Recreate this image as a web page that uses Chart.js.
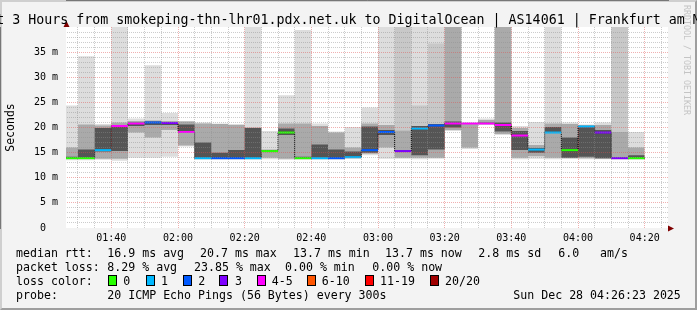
<!DOCTYPE html>
<html>
<head>
<meta charset="utf-8">
<script src="https://cdn.jsdelivr.net/npm/chart.js@4.4.1/dist/chart.umd.min.js"></script>
<style>
  html, body { margin: 0; padding: 0; }
  body { width: 697px; height: 310px; overflow: hidden; position: relative; background: #f3f3f3; font-family: "DejaVu Sans Mono", monospace; }
  #frame { position: absolute; left: 0; top: 0; width: 697px; height: 310px; box-sizing: border-box; border: 2px solid; border-color: #cfcfcf #9e9e9e #9e9e9e #cfcfcf; }
  #chart { position: absolute; left: 0; top: 0; }
  .t { position: absolute; white-space: pre; line-height: 1; color: #000; }
  #title { font-size: 13.3px; left: 348.5px; top: 12.8px; transform: translateX(-50%); }
  .f { font-size: 11.6px; }
  .box { position: absolute; width: 9px; height: 11px; box-sizing: border-box; border: 1px solid #000; top: 275px; }
  #rrd { position: absolute; left: 683px; top: 5px; font-size: 8.3px; line-height: 8.3px; color: #c4c4c4; writing-mode: vertical-rl; white-space: pre; }
</style>
</head>
<body>
<div id="frame"></div>
<canvas id="chart" width="697" height="310"></canvas>
<div id="rrd">RRDTOOL / TOBI OETIKER</div>
<div id="title" class="t">Last 3 Hours from smokeping-thn-lhr01.pdx.net.uk to DigitalOcean | AS14061 | Frankfurt am Main</div>
<div id="legend"></div>
<script>
// loss colour legend (smokeping defaults)
const lossColors = ["#26ff00", "#00b8ff", "#0059ff", "#7e00ff", "#ff00ff", "#ff5500", "#ff0000", "#a00000"];
const lossLabels = ["0", "1", "2", "3", "4-5", "6-10", "11-19", "20/20"];

// time window, minutes after midnight
const firstStep = 85;      // 01:25, start of first 5 min step
const stepMinutes = 5;
const viewStart = 86.4;    // 01:26:23
const viewEnd = 267.0;

// smoke per step (ms): outer band, haze, middle band, dark core
const smokeMax = [24.4, 34.2, 20.7, 42, 21.8, 32.4, 22.9, 21.3, 21.0, 20.8, 20.7, 42, 19.3, 26.4, 39.4, 20.8, 19.2, 20.1, 24.0, 42, 42, 42, 42, 42, 20.9, 21.8, 42, 20.3, 21.1, 42, 21.0, 20.6, 21.0, 42, 19.1];
const smokeHaze = [16.0, 20.6, 20.4, 21.0, 21.3, 21.4, 21.3, 21.2, 20.8, 20.7, 20.5, 20.0, 15.6, 20.8, 20.8, 20.3, 19.0, 16.0, 20.8, 20.5, 42, 24.4, 36.7, 42, 20.9, 21.5, 42, 19.9, 16.5, 20.8, 20.7, 20.5, 20.5, 42, 16.0];
const smokeHi2 = [16.0, 20.6, 20.4, 21.0, 21.3, 21.4, 21.3, 21.2, 20.8, 20.7, 20.5, 20.0, 15.6, 20.8, 20.8, 20.3, 19.0, 16.0, 20.8, 20.5, 19.4, 20.3, 20.7, 42, 20.9, 21.5, 42, 19.9, 16.5, 20.8, 20.7, 20.5, 20.5, 19.1, 16.0];
const smokeHi3 = [14.2, 15.6, 19.9, 20.5, 21.0, 21.2, 21.1, 20.6, 17.0, 15.0, 15.5, 19.9, 15.4, 19.8, 14.2, 16.6, 15.6, 15.2, 20.2, 19.5, 15.4, 20.3, 20.7, 21.2, 20.85, 21.0, 21.0, 19.3, 15.9, 20.1, 18.0, 20.3, 19.5, 13.9, 14.5];
const medianRtt = [13.9, 13.9, 15.5, 20.3, 20.8, 21.0, 20.9, 19.1, 13.9, 13.9, 13.9, 13.9, 15.3, 19.0, 13.9, 13.9, 13.9, 14.1, 15.5, 19.1, 15.3, 19.8, 20.4, 20.8, 20.8, 20.8, 20.5, 18.4, 15.6, 19.0, 15.5, 20.2, 19.0, 13.9, 13.9];
const smokeLo3 = [13.85, 13.85, 15.2, 15.3, 20.3, 20.5, 20.5, 19.0, 13.85, 13.85, 13.85, 13.85, 15.2, 18.5, 13.85, 13.85, 13.85, 14.0, 15.0, 18.5, 15.2, 14.5, 15.6, 20.0, 20.7, 20.7, 19.2, 15.5, 15.0, 18.9, 14.0, 14.2, 13.9, 13.85, 13.85];
const smokeLo2 = [13.8, 13.8, 13.8, 13.8, 19.0, 18.0, 19.5, 16.4, 13.8, 13.8, 13.8, 13.8, 14.0, 13.8, 13.8, 13.8, 13.8, 13.9, 14.8, 16.0, 14.0, 14.0, 14.0, 19.5, 16.0, 20.6, 18.7, 14.0, 14.3, 14.0, 13.9, 13.9, 13.8, 13.8, 13.8];
const smokeMin = [13.5, 13.5, 13.6, 13.4, 14.0, 14.0, 14.2, 16.2, 13.6, 13.6, 13.6, 13.6, 13.7, 13.6, 13.6, 13.6, 13.6, 13.8, 14.5, 13.8, 13.8, 13.7, 13.8, 19.3, 15.7, 20.6, 18.5, 13.7, 13.8, 13.7, 13.8, 13.7, 13.7, 13.6, 13.6];
// index into lossColors for each step
const lossIndex = [0, 0, 1, 4, 4, 2, 3, 4, 1, 2, 2, 1, 0, 0, 0, 1, 2, 1, 2, 2, 3, 1, 2, 4, 4, 4, 4, 4, 1, 1, 0, 1, 3, 3, 0];

const statsRtt = [["median rtt:", 16], ["16.9 ms avg", 107.3], ["20.7 ms max", 200], ["13.7 ms min", 293], ["13.7 ms now", 385], ["2.8 ms sd", 478.3], ["6.0", 558.3], ["am/s", 600]];
const statsLoss = [["packet loss:", 16], ["8.29 % avg", 107.3], ["23.85 % max", 194], ["0.00 % min", 285], ["0.00 % now", 372.3]];
const lossBoxX = [108.3, 145.7, 182.7, 219.3, 256.7, 306.7, 365, 430];
const lossTextX = [123.3, 161, 198.3, 235, 271.7, 321.7, 380, 445];
const probeLine = [["probe:", 16], ["20 ICMP Echo Pings (56 Bytes) every 300s", 107.3], ["Sun Dec 28 04:26:23 2025", 513.3]];

// footer legend as html text
const legend = document.getElementById("legend");
function addText(txt, x, top) {
    const d = document.createElement("div");
    d.className = "t f";
    d.textContent = txt;
    d.style.left = x + "px";
    d.style.top = top + "px";
    legend.appendChild(d);
}
statsRtt.forEach(([t, x]) => addText(t, x, 247.7));
statsLoss.forEach(([t, x]) => addText(t, x, 261.7));
addText("loss color:", 16, 275.7);
lossLabels.forEach((t, i) => {
    const b = document.createElement("div");
    b.className = "box";
    b.style.left = lossBoxX[i] + "px";
    b.style.background = lossColors[i];
    legend.appendChild(b);
    addText(t, lossTextX[i], 275.7);
});
probeLine.forEach(([t, x]) => addText(t, x, 289.7));

const nSteps = medianRtt.length;
const stepX = (k) => firstStep + k * stepMinutes;

// point at each step start + a closing point; with stepped 'before'
// the value is held until the next point
function stepped(values) {
    const pts = values.map((v, k) => ({ x: stepX(k), y: v }));
    pts.push({ x: stepX(nSteps), y: values[nSteps - 1] });
    return pts;
}
function band(lo, hi, color) {
    const base = { stepped: "before", borderWidth: 0, borderColor: "rgba(0,0,0,0)", pointRadius: 0 };
    return [
        Object.assign({ data: stepped(lo), fill: false }, base),
        Object.assign({ data: stepped(hi), fill: "-1", backgroundColor: color }, base),
    ];
}

// coloured median pieces, one per step
const medianPieces = [];
medianRtt.forEach((v, k) => {
    medianPieces.push({ x: stepX(k), y: v }, { x: stepX(k + 1), y: v }, { x: stepX(k + 1), y: null });
});

const minorGrid = "rgba(143,143,143,0.45)";
const majorGrid = "rgba(222,79,79,0.45)";
const monoFont = { family: "DejaVu Sans Mono", size: 10 };

const hhmm = (v) => {
    const m = Math.round(v);
    return String(Math.floor(m / 60)).padStart(2, "0") + ":" + String(m % 60).padStart(2, "0");
};

const framePlugin = {
    id: "frame",
    beforeDraw(chart) {
        const { ctx, chartArea: a } = chart;
        ctx.save();
        ctx.fillStyle = "#ffffff";
        ctx.fillRect(a.left, a.top, a.right - a.left, a.bottom - a.top);
        ctx.restore();
    },
    afterDraw(chart) {
        const { ctx, chartArea: a } = chart;
        ctx.save();
        ctx.fillStyle = "#7f0000";
        ctx.beginPath();
        ctx.moveTo(a.left + 0.5, a.top - 6);
        ctx.lineTo(a.left + 3.5, a.top);
        ctx.lineTo(a.left - 2.5, a.top);
        ctx.closePath();
        ctx.fill();
        ctx.beginPath();
        ctx.moveTo(a.right + 6, a.bottom + 0.5);
        ctx.lineTo(a.right, a.bottom + 3.5);
        ctx.lineTo(a.right, a.bottom - 2.5);
        ctx.closePath();
        ctx.fill();
        ctx.restore();
    },
};

new Chart(document.getElementById("chart").getContext("2d"), {
    type: "line",
    data: {
        datasets: [
            {
                data: medianPieces,
                borderWidth: 2,
                borderColor: "#000",
                pointRadius: 0,
                spanGaps: false,
                fill: false,
                segment: { borderColor: (c) => lossColors[lossIndex[Math.floor(c.p0DataIndex / 3)]] },
            },
            {
                data: stepped(medianRtt),
                stepped: "before",
                borderWidth: 1,
                borderColor: "#000",
                borderDash: [1, 1],
                pointRadius: 0,
                fill: false,
            },
            ...band(smokeLo3, smokeHi3, "#555555"),
            ...band(smokeLo2, smokeHi2, "#aaaaaa"),
            ...band(smokeHi2, smokeHaze, "#c8c8c8"),
            ...band(smokeMin, smokeMax, "#dddddd"),
        ],
    },
    options: {
        responsive: false,
        animation: false,
        events: [],
        layout: { padding: { top: 27, right: 29, bottom: 0, left: 0 } },
        plugins: { legend: { display: false }, tooltip: { enabled: false }, title: { display: false } },
        scales: {
            x: {
                type: "linear",
                min: viewStart,
                max: viewEnd,
                afterFit: (s) => { s.height = 82; },
                ticks: {
                    stepSize: 5,
                    autoSkip: false,
                    includeBounds: false,
                    maxRotation: 0,
                    padding: 4,
                    font: monoFont,
                    color: "#000",
                    callback: (v) => (Math.round(v) % 20 === 0 ? hhmm(v) : ""),
                },
                grid: {
                    z: 1,
                    drawTicks: false,
                    lineWidth: 1,
                    color: (c) => (c.tick && Math.round(c.tick.value) % 20 === 0 ? majorGrid : minorGrid),
                },
                border: { color: "#212121", width: 1, dash: [1, 1] },
            },
            y: {
                min: 0,
                max: 40,
                afterFit: (s) => { s.width = 66; },
                ticks: {
                    stepSize: 1,
                    autoSkip: false,
                    padding: 8,
                    font: monoFont,
                    color: "#000",
                    callback: (v) => (v % 5 === 0 && v < 40 ? (v === 0 ? "0  " : v + " m") : ""),
                },
                grid: {
                    z: 1,
                    drawTicks: false,
                    lineWidth: 1,
                    color: (c) => {
                        const v = c.tick ? c.tick.value : -1;
                        if (v <= 0 || v >= 40) return "rgba(0,0,0,0)";
                        return v % 5 === 0 ? majorGrid : minorGrid;
                    },
                },
                border: { color: "#212121", width: 1, dash: [1, 1] },
                title: {
                    display: true,
                    text: "Seconds",
                    color: "#000",
                    font: { family: "DejaVu Sans Mono", size: 11.5 },
                    padding: { top: 4, bottom: 0 },
                },
            },
        },
    },
    plugins: [framePlugin],
});
</script>
</body>
</html>
